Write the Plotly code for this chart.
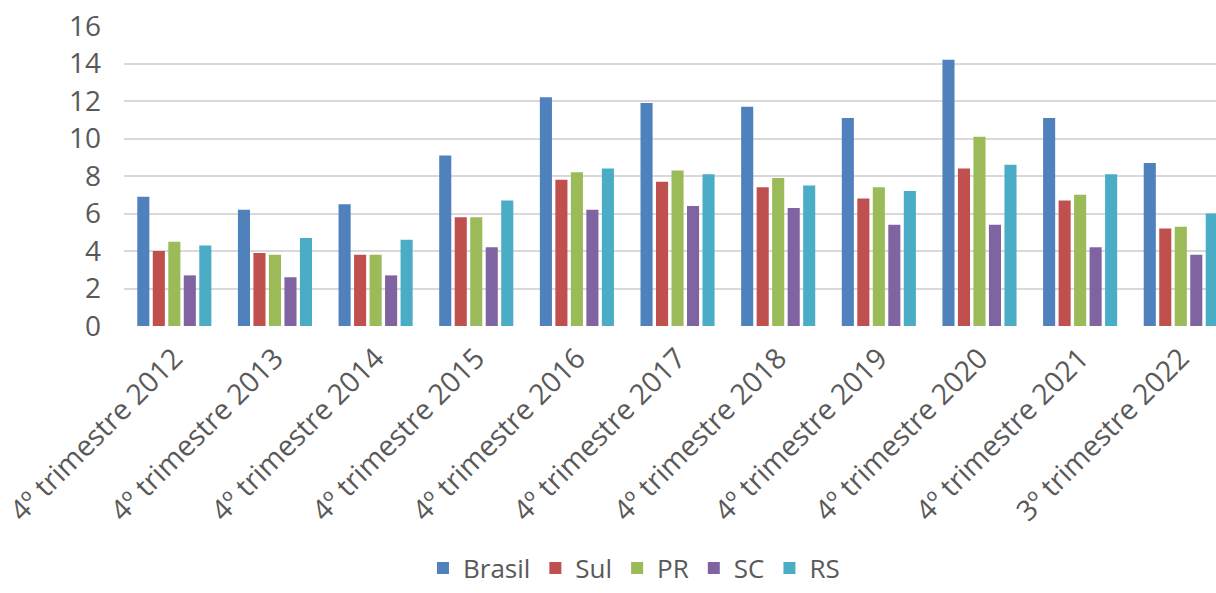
import plotly.graph_objects as go

categories = ["4º trimestre 2012", "4º trimestre 2013", "4º trimestre 2014", "4º trimestre 2015",
              "4º trimestre 2016", "4º trimestre 2017", "4º trimestre 2018", "4º trimestre 2019",
              "4º trimestre 2020", "4º trimestre 2021", "3º trimestre 2022"]

brasil = [6.9, 6.2, 6.5, 9.1, 12.2, 11.9, 11.7, 11.1, 14.2, 11.1, 8.7]
sul    = [4.0, 3.9, 3.8, 5.8, 7.8, 7.7, 7.4, 6.8, 8.4, 6.7, 5.2]
pr     = [4.5, 3.8, 3.8, 5.8, 8.2, 8.3, 7.9, 7.4, 10.1, 7.0, 5.3]
sc     = [2.7, 2.6, 2.7, 4.2, 6.2, 6.4, 6.3, 5.4, 5.4, 4.2, 3.8]
rs     = [4.3, 4.7, 4.6, 6.7, 8.4, 8.1, 7.5, 7.2, 8.6, 8.1, 6.0]

series = [("Brasil", brasil, "#4F81BD"), ("Sul", sul, "#C0504D"), ("PR", pr, "#9BBB59"),
          ("SC", sc, "#8064A2"), ("RS", rs, "#4BACC6")]

FONT = "Open Sans"
GRAY = "#595959"

fig = go.Figure()
for name, vals, color in series:
    fig.add_trace(go.Bar(x=categories, y=vals, name=name, marker_color=color,
                         marker_line_width=0))

fig.update_layout(
    width=1216, height=593,
    margin=dict(l=124, r=0, t=26, b=267, autoexpand=False),
    paper_bgcolor="white", plot_bgcolor="white",
    barmode="group", bargap=0.23, bargroupgap=0.22,
    font=dict(family=FONT, color=GRAY, size=26),
    showlegend=True,
    legend=dict(orientation="h", x=0.467, xanchor="center", y=-0.885, yanchor="bottom",
                font=dict(size=26, color=GRAY, family=FONT), itemsizing="constant",
                bgcolor="rgba(0,0,0,0)"),
)
fig.update_xaxes(type="category", range=[-0.5, 10.35], tickangle=-45,
                 tickfont=dict(size=28.5, color=GRAY, family=FONT),
                 showgrid=False, zeroline=False, showline=False, ticks="",
                 ticklabelstandoff=9, automargin=False)
fig.update_yaxes(range=[0, 16], dtick=2, tick0=0, showgrid=True, gridcolor="#D9D9D9",
                 gridwidth=1.5, zeroline=False, showline=False, ticks="",
                 tickfont=dict(size=28, color=GRAY, family=FONT),
                 ticklabelstandoff=22, automargin=False)

fig.write_html("out.html")
